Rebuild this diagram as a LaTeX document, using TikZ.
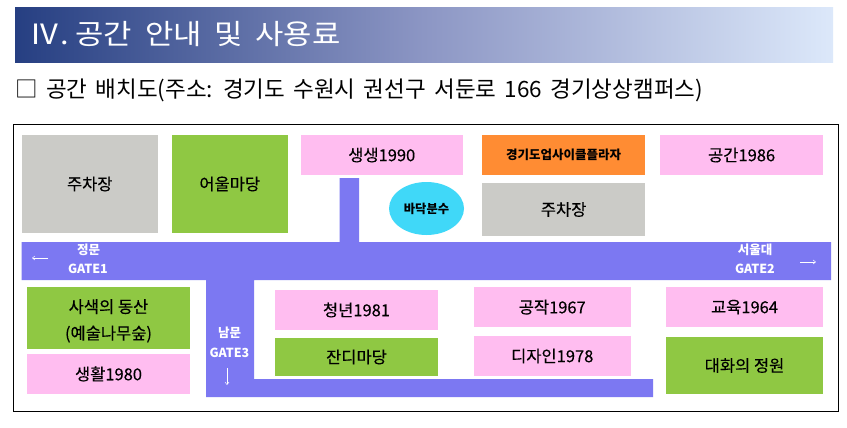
\documentclass[tikz,border=0pt]{standalone}
\usepackage{fontspec}
\setmainfont{Noto Sans CJK KR}
\newfontfamily\headfont[WordSpace=1.85,FakeStretch=1.1]{Noto Sans CJK KR}
\newfontfamily\subfont[WordSpace=1.65]{Noto Sans CJK KR}
\newfontfamily\labelfont[FakeBold=0.25]{Noto Sans CJK KR}
\usetikzlibrary{arrows.meta,shapes.geometric}
\definecolor{roadblue}{HTML}{7C78F2}
\definecolor{pinkroom}{HTML}{FFBDF0}
\definecolor{greenroom}{HTML}{8FC843}
\definecolor{greyroom}{HTML}{CBCBC7}
\definecolor{orangeroom}{HTML}{FF8C33}
\definecolor{fountain}{HTML}{40D8F8}
\definecolor{headdark}{HTML}{263F82}
\definecolor{headmid}{HTML}{8C96C4}
\definecolor{headlight}{HTML}{DCE8FA}
\tikzset{
  x=1pt,y=-1pt,
  block/.style={inner sep=0pt,outer sep=0pt,align=center,text=black,font=\fontsize{16.5}{26.5}\labelfont,anchor=center},
  pinkroom style/.style={block,fill=pinkroom},
  greenroom style/.style={block,fill=greenroom},
  greyroom style/.style={block,fill=greyroom},
  orangeroom style/.style={block,fill=orangeroom},
  gatetext/.style={text=white,inner sep=0pt,font=\fontsize{12.5}{14}\selectfont\bfseries},
  gatearrow/.style={draw=white,line width=0.5pt,-{Straight Barb[length=2.5pt,width=4pt]}},
}
\newcommand{\blk}[7][]{%
  \pgfmathsetmacro{\bw}{#5-#3}\pgfmathsetmacro{\bh}{#6-#4}%
  \pgfmathsetmacro{\cx}{(#3+#5)/2}\pgfmathsetmacro{\cy}{(#4+#6)/2}%
  \node[#1,minimum width=\bw pt,minimum height=\bh pt] (#2) at (\cx,\cy) {#7};}
\begin{document}
\begin{tikzpicture}
\useasboundingbox (0,0) rectangle (847,428);
\fill[white] (0,0) rectangle (847,428);
% header band
\path[left color=headdark,right color=headlight,middle color=headmid] (15,8) rectangle (833,63);
\node[anchor=west,text=white,inner sep=0pt,font=\fontsize{28}{32}\headfont] (title) at (29,34) {Ⅳ.\hspace{-8pt} 공간 안내 및 사용료};
\node[anchor=west,text=black,inner sep=0pt,font=\fontsize{22.5}{26}\subfont] (subtitle) at (15,90) {□ 공간 배치도(주소: 경기도 수원시 권선구 서둔로 166 경기상상캠퍼스)};
% frame
\node[draw=black,line width=1pt,inner sep=0pt,minimum width=825pt,minimum height=286.5pt] (frame) at (426,267.75) {};
% roads
\fill[roadblue] (21.5,242) -- (339.5,242) -- (339.5,178) -- (359,178) -- (359,242) -- (831,242) -- (831,280)
  -- (254,280) -- (254,379) -- (653,379) -- (653,397) -- (206,397) -- (206,280) -- (21.5,280) -- cycle;
% top row
\blk[greyroom style]{park1}{21.5}{135}{158}{233}{주차장}
\blk[greenroom style]{plaza}{171.5}{135}{288}{233}{어울마당}
\blk[pinkroom style]{b1990}{300.5}{135}{463}{175}{생생1990}
\blk[orangeroom style,font=\fontsize{12.5}{14}\selectfont\bfseries]{upcycle}{482.3}{135}{645}{175}{경기도업사이클플라자}
\blk[pinkroom style]{b1986}{660.3}{135}{823}{175}{공간1986}
\blk[greyroom style]{park2}{482.3}{183}{645}{236}{주차장}
\node[ellipse,fill=fountain,inner sep=0pt,minimum width=75pt,minimum height=53pt,font=\fontsize{12.3}{14}\selectfont\bfseries,text=black] (fount) at (426.5,208.5) {바닥분수};
% lower rooms
\blk[greenroom style]{hill}{27}{287.3}{190}{349}{\rule{0pt}{19pt}사색의 동산\\(예술나무숲)}
\blk[pinkroom style]{b1980}{27}{354}{190}{394}{생활1980}
\blk[pinkroom style]{b1981}{275}{290}{438}{330}{청년1981}
\blk[greenroom style]{lawn}{275}{338}{438}{376}{잔디마당}
\blk[pinkroom style]{b1967}{473.5}{287.3}{631}{327}{공작1967}
\blk[pinkroom style]{b1978}{473.5}{336}{631}{376}{디자인1978}
\blk[pinkroom style]{b1964}{666}{287.3}{823}{327}{교육1964}
\blk[greenroom style]{garden}{666}{337}{823}{394}{대화의 정원}
% gates
\node[gatetext] (g1a) at (88.5,250) {정문};
\node[gatetext] (g1b) at (88,269) {GATE1};
\node[gatetext] (g2a) at (755,250) {서울대};
\node[gatetext] (g2b) at (755,269) {GATE2};
\node[gatetext] (g3a) at (229.5,333) {남문};
\node[gatetext] (g3b) at (229.5,353) {GATE3};
\coordinate (a1s) at (48,258); \coordinate (a1e) at (32,258);
\coordinate (a2s) at (800,262); \coordinate (a2e) at (816,262);
\coordinate (a3s) at (227,368); \coordinate (a3e) at (227,385);
\draw[gatearrow] (a1s) -- (a1e);
\draw[gatearrow] (a2s) -- (a2e);
\draw[gatearrow] (a3s) -- (a3e);
\end{tikzpicture}
\end{document}
